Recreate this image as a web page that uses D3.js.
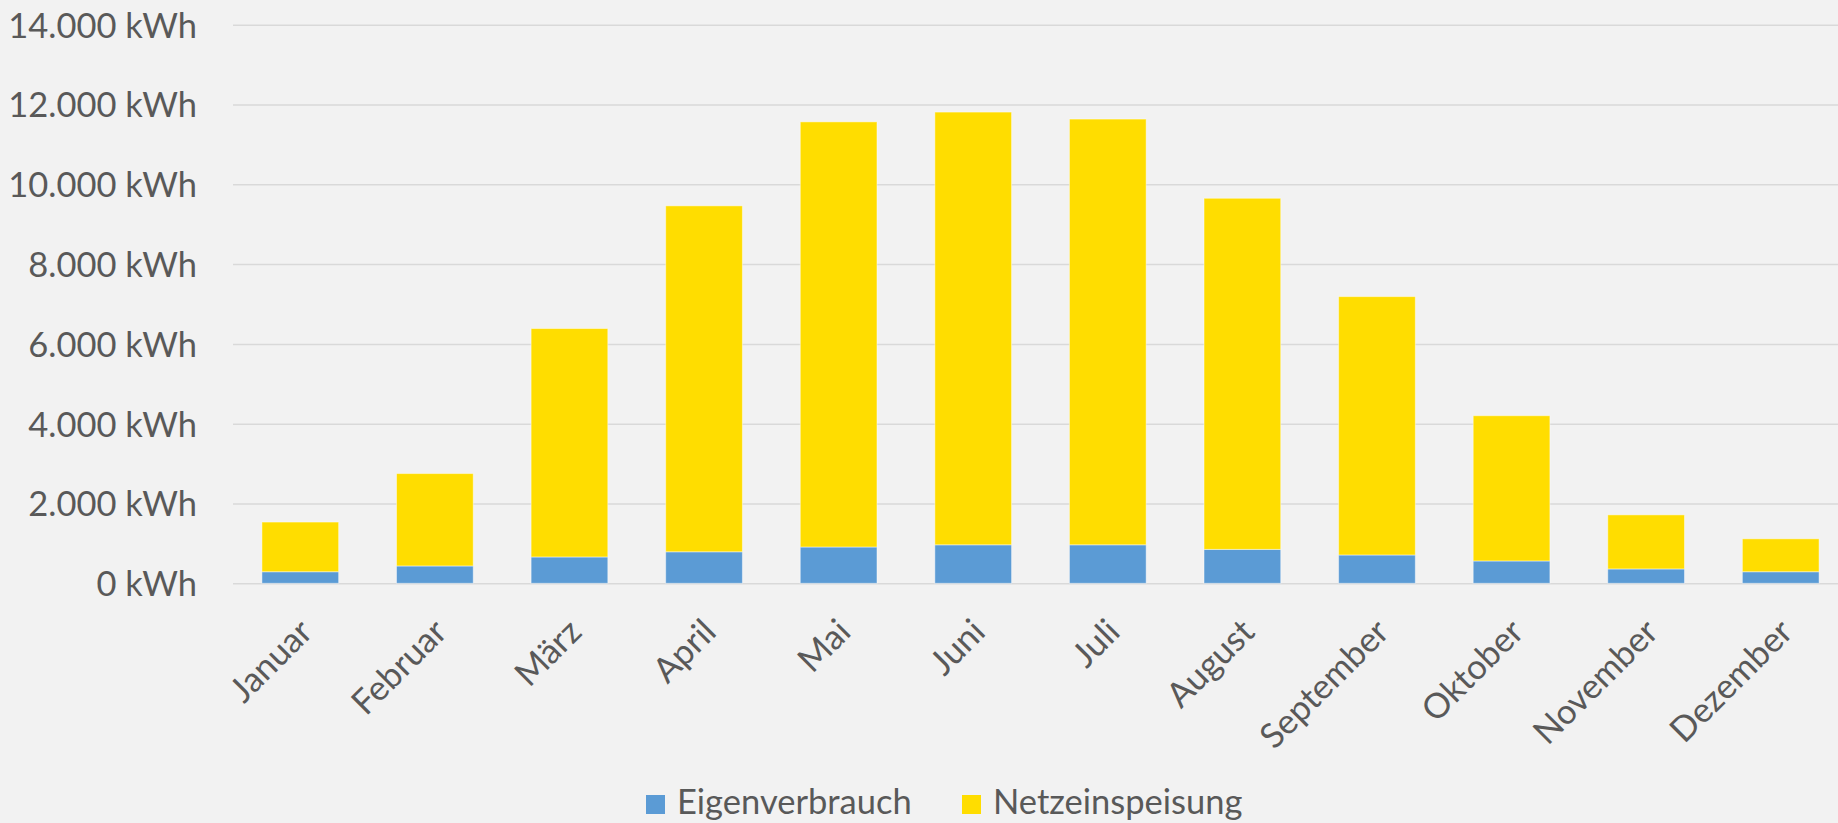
<!DOCTYPE html>
<html>
<head>
<meta charset="utf-8">
<script src="https://d3js.org/d3.v7.min.js"></script>
<style>
  body { margin: 0; background: #f2f2f2; }
  svg { display: block; font-family: Lato, "Open Sans", sans-serif; }
  .tick text { fill: #595959; }
</style>
</head>
<body>
<svg id="chart" width="1838" height="823"></svg>
<script>
// Monatswerte (kWh)
var months = ["Januar", "Februar", "März", "April", "Mai", "Juni", "Juli",
              "August", "September", "Oktober", "November", "Dezember"];
var eigenverbrauch = [290, 435, 660, 790, 910, 965, 965, 850, 710, 560, 360, 290];
var netzeinspeisung = [1245, 2315, 5725, 8670, 10655, 10845, 10670, 8800, 6475, 3640, 1355, 825];
var seriesNames = ["Eigenverbrauch", "Netzeinspeisung"];
var seriesColors = ["#5b9bd5", "#ffdd00"];
var yTicks = [0, 2000, 4000, 6000, 8000, 10000, 12000, 14000];

var W = 1838, H = 823;
var plotLeft = 233, plotRight = 1848, plotTop = 24.7, plotBottom = 583.3;
var fontSize = 34.5;
var fontFamily = "Lato, 'Open Sans', sans-serif";

var svg = d3.select("#chart");
svg.append("rect").attr("width", W).attr("height", H).attr("fill", "#f2f2f2");

var de = d3.formatLocale({ decimal: ",", thousands: ".", grouping: [3], currency: ["", " €"] });
var fmt = de.format(",");

var x = d3.scaleBand().domain(months).range([plotLeft, plotRight])
    .paddingInner(0.43).paddingOuter(0.215);
var y = d3.scaleLinear().domain([0, 14000]).range([plotBottom, plotTop]);

// y axis + gridlines
var yAxis = svg.append("g")
    .attr("transform", "translate(" + plotLeft + ",0)")
    .call(d3.axisLeft(y).tickValues(yTicks)
        .tickSize(-(W - plotLeft)).tickPadding(36)
        .tickFormat(function(d) { return fmt(d) + " kWh"; }));
yAxis.attr("font-family", fontFamily).attr("font-size", fontSize);
yAxis.select(".domain").remove();
yAxis.selectAll(".tick line").attr("stroke", "#d9d9d9").attr("stroke-width", 1.5);
yAxis.selectAll(".tick text").attr("dy", "0.36em");

// stacked bars
var rows = months.map(function(m, i) {
  return { month: m, Eigenverbrauch: eigenverbrauch[i], Netzeinspeisung: netzeinspeisung[i] };
});
var stack = d3.stack().keys(seriesNames)(rows);

svg.selectAll("g.layer").data(stack).enter().append("g")
    .attr("class", "layer")
    .attr("fill", function(d, i) { return seriesColors[i]; })
  .selectAll("rect").data(function(d) { return d; }).enter().append("rect")
    .attr("x", function(d) { return x(d.data.month); })
    .attr("width", x.bandwidth())
    .attr("y", function(d) { return y(d[1]); })
    .attr("height", function(d) { return y(d[0]) - y(d[1]); })
    .attr("stroke", "#ffffff").attr("stroke-opacity", 0.45).attr("stroke-width", 1);

// x labels, rotated
var xAxis = svg.append("g")
    .call(d3.axisBottom(x).tickSize(0).tickFormat(""));
xAxis.select(".domain").remove();

svg.selectAll("text.month").data(months).enter().append("text")
    .attr("class", "month")
    .attr("transform", function(d) {
      return "translate(" + (x(d) + x.bandwidth() / 2 + 14) + ",634) rotate(-45)";
    })
    .attr("text-anchor", "end")
    .attr("font-size", fontSize)
    .attr("fill", "#595959")
    .text(function(d) { return d; });

// legend
var legendX = [646, 962];
var legend = svg.selectAll("g.legend").data(seriesNames).enter().append("g")
    .attr("class", "legend")
    .attr("transform", function(d, i) { return "translate(" + legendX[i] + ",795)"; });
legend.append("rect").attr("width", 19).attr("height", 19)
    .attr("fill", function(d, i) { return seriesColors[i]; });
legend.append("text").attr("x", 31).attr("y", 19)
    .attr("font-size", fontSize).attr("fill", "#595959")
    .text(function(d) { return d; });
</script>
</body>
</html>
